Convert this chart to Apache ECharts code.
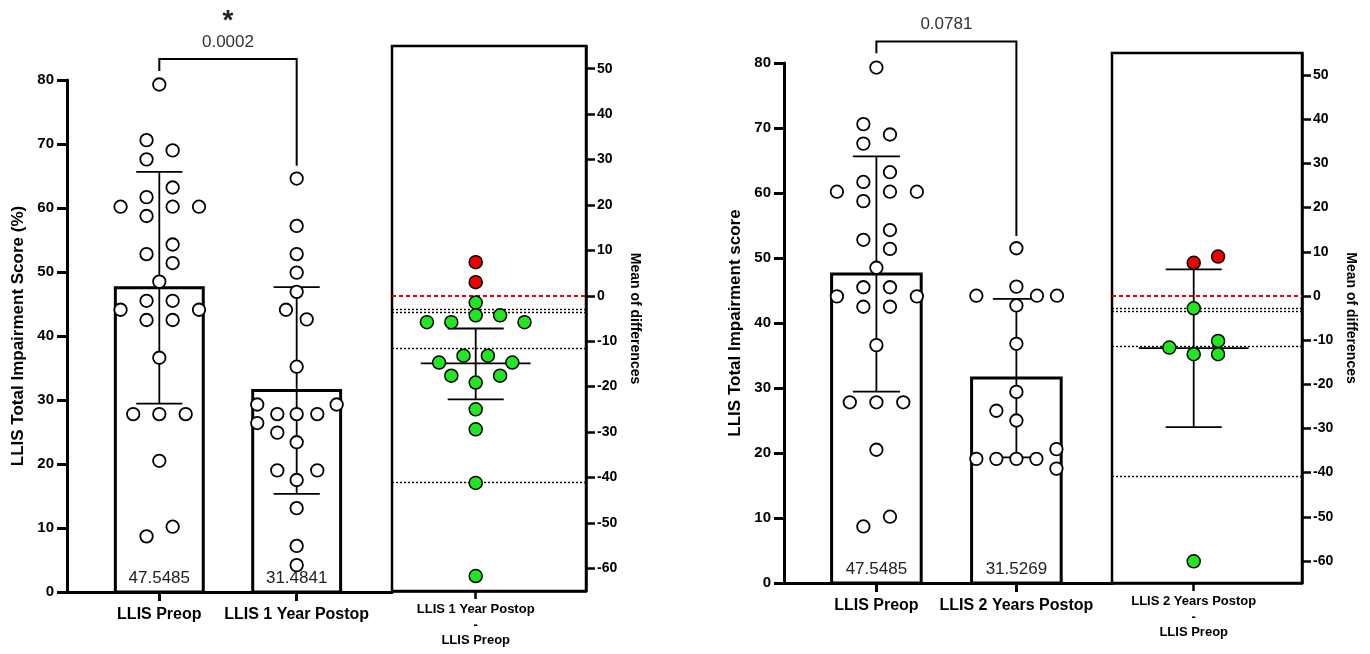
<!DOCTYPE html>
<html>
<head>
<meta charset="utf-8">
<script src="https://cdn.jsdelivr.net/npm/echarts@6/dist/echarts.min.js"></script>
<style>
html,body{margin:0;padding:0;background:#fff;}
#c{width:1370px;height:654px;}
</style>
</head>
<body>
<div id="c"></div>
<script>
// ---------------- data ----------------
const categories1 = ['LLIS Preop', 'LLIS 1 Year Postop'];
const categories2 = ['LLIS Preop', 'LLIS 2 Years Postop'];
const diffLabel1 = 'LLIS 1 Year Postop\n-\nLLIS Preop';
const diffLabel2 = 'LLIS 2 Years Postop\n-\nLLIS Preop';
const scoreTicks = [0, 10, 20, 30, 40, 50, 60, 70, 80];
const diffTicks = [-60, -50, -40, -30, -20, -10, 0, 10, 20, 30, 40, 50];

// individual scores (jitter = horizontal swarm offset, in category widths)
const preopValues = [79.3, 70.6, 69.0, 67.6, 63.2, 61.7, 60.2, 60.2, 60.2, 58.75, 54.3, 52.8, 51.4, 48.5, 45.5, 45.5, 44.1, 44.1, 42.5, 42.5, 36.6, 27.8, 27.8, 27.8, 20.5, 8.7, 10.2];
const preopJitter = [0, -0.093, 0.097, -0.093, 0.097, -0.093, -0.282, 0.097, 0.289, -0.093, 0.097, -0.093, 0.097, 0, -0.093, 0.097, -0.282, 0.289, -0.093, 0.097, 0, -0.19, 0, 0.192, 0, -0.093, 0.097];

const postop1Values = [64.6, 57.2, 52.8, 49.9, 46.9, 44.1, 42.6, 35.2, 29.3, 29.3, 27.8, 27.8, 27.8, 26.4, 24.9, 23.4, 19.0, 19.0, 17.5, 13.1, 7.2, 4.2];
const postop1Jitter = [0, 0, 0, 0, 0, -0.078, 0.073, 0, -0.287, 0.291, -0.141, 0, 0.15, -0.287, -0.141, 0, -0.141, 0.15, 0, 0, 0, 0];

const postop2Values = [51.5, 45.6, 44.2, 44.2, 44.2, 42.7, 36.8, 29.4, 26.5, 25.0, 20.6, 19.1, 19.1, 19.1, 19.1, 17.6];
const postop2Jitter = [0, 0, -0.286, 0.147, 0.29, 0, 0, 0, -0.143, 0, 0.286, -0.286, -0.143, 0, 0.143, 0.286];

// bar means and SD
const means1 = [47.5485, 31.4841];
const sd1 = [18.1, 16.15];
const means2 = [47.5485, 31.5269];
const sd2 = [18.1, 12.2];

// differences (jitter in swarm steps)
const diff1Values = [7.4, 3.0, -1.5, -4.3, -4.3, -5.8, -5.8, -5.8, -13.2, -13.2, -14.7, -14.7, -17.6, -17.6, -19.1, -25.0, -29.4, -41.2, -61.7];
const diff1Jitter = [0, 0, 0, 0, 2, -4, -2, 4, -1, 1, -3, 3, -2, 2, 0, 0, 0, 0, 0];
const diff1Summary = [-22.8, -14.9, -7.2];   // lower, centre, upper
const diff1RefLines = [-2.9, -3.7, -11.5, -41.0];

const diff2Values = [7.5, 8.9, -2.8, -10.2, -11.7, -13.2, -13.2, -60.1];
const diff2Jitter = [0, 2, 0, 2, -2, 0, 2, 0];
const diff2Summary = [-29.7, -11.8, 6.0];
const diff2RefLines = [-2.8, -3.5, -11.4, -40.8];

// significance brackets: left foot, top, right foot
const sig1 = [81.4, 83.3, 66.6];
const sig1P = '0.0002';
const sig1Star = '*';
const sig2 = [81.5, 83.3, 53.4];
const sig2P = '0.0781';
const sig2Star = '';

// ---------------- helpers ----------------
const FONT = '"Liberation Sans", Arial, Helvetica, sans-serif';
const RED = '#ee0000';
const GREEN = '#22e622';

function barSeries(xi, yi, means) {
  return {
    type: 'custom', xAxisIndex: xi, yAxisIndex: yi, silent: true, z: 2,
    data: means.map((m, i) => [i, m]),
    renderItem(params, api) {
      const x = api.value(0), m = api.value(1);
      const a = api.coord([x - 0.32, m]);
      const b = api.coord([x + 0.32, 0]);
      return {
        type: 'group',
        children: [
          { type: 'rect', shape: { x: a[0], y: a[1], width: b[0] - a[0], height: b[1] - a[1] },
            style: { fill: '#fff', stroke: '#000', lineWidth: 3 } },
          { type: 'text', x: (a[0] + b[0]) / 2, y: b[1] - 14,
            style: { text: m.toFixed(4), fill: '#222', font: '17px ' + FONT, align: 'center', verticalAlign: 'middle' } }
        ]
      };
    }
  };
}

function errSeries(xi, yi, means, sds) {
  return {
    type: 'custom', xAxisIndex: xi, yAxisIndex: yi, silent: true, z: 3,
    data: means.map((m, i) => [i, m - sds[i], m + sds[i]]),
    renderItem(params, api) {
      const x = api.value(0), lo = api.value(1), hi = api.value(2);
      const st = { stroke: '#000', lineWidth: 1.8 };
      const p1 = api.coord([x, lo]), p2 = api.coord([x, hi]);
      const l1 = api.coord([x - 0.168, lo]), r1 = api.coord([x + 0.168, lo]);
      const l2 = api.coord([x - 0.168, hi]), r2 = api.coord([x + 0.168, hi]);
      return { type: 'group', children: [
        { type: 'line', shape: { x1: p1[0], y1: p1[1], x2: p2[0], y2: p2[1] }, style: st },
        { type: 'line', shape: { x1: l1[0], y1: l1[1], x2: r1[0], y2: r1[1] }, style: st },
        { type: 'line', shape: { x1: l2[0], y1: l2[1], x2: r2[0], y2: r2[1] }, style: st }
      ]};
    }
  };
}

function pointSeries(xi, yi, cat, values, jitter) {
  return {
    type: 'scatter', xAxisIndex: xi, yAxisIndex: yi, silent: true, z: 5,
    symbol: 'circle', symbolSize: 12.5,
    itemStyle: { color: '#fff', borderColor: '#000', borderWidth: 1.8, opacity: 1 },
    data: values.map((v, k) => [cat + jitter[k], v])
  };
}

function bracketSeries(xi, yi, sig, p, star) {
  return {
    type: 'custom', xAxisIndex: xi, yAxisIndex: yi, silent: true, z: 6, clip: false,
    data: [[0, sig[0], sig[1], sig[2]]],
    renderItem(params, api) {
      const a = api.coord([0, api.value(1)]);
      const b = api.coord([0, api.value(2)]);
      const c = api.coord([1, api.value(2)]);
      const d = api.coord([1, api.value(3)]);
      const mx = (b[0] + c[0]) / 2;
      const children = [
        { type: 'polyline', shape: { points: [a, b, c, d] }, style: { stroke: '#000', lineWidth: 2, fill: null } },
        { type: 'text', x: mx, y: b[1] - 17, style: { text: p, fill: '#333', font: '17px ' + FONT, align: 'center', verticalAlign: 'middle' } }
      ];
      if (star) {
        children.push({ type: 'text', x: mx, y: b[1] - 38, style: { text: star, fill: '#222', font: 'bold 28px ' + FONT, align: 'center', verticalAlign: 'middle' } });
      }
      return { type: 'group', children };
    }
  };
}

function diffPointSeries(xi, yi, values, jitter) {
  return {
    type: 'scatter', xAxisIndex: xi, yAxisIndex: yi, silent: true, z: 5,
    symbol: 'circle', symbolSize: 13,
    itemStyle: { color: p => (p.value[1] > 0 ? RED : GREEN), borderColor: '#000', borderWidth: 1.5, opacity: 1 },
    data: values.map((v, k) => [jitter[k], v])
  };
}

function diffSummarySeries(xi, yi, summary, refLines) {
  return {
    type: 'custom', xAxisIndex: xi, yAxisIndex: yi, silent: true, z: 3,
    data: [[0, summary[0], summary[1], summary[2]]],
    renderItem(params, api) {
      const lo = api.value(1), mid = api.value(2), hi = api.value(3);
      const st = { stroke: '#000', lineWidth: 1.8 };
      const L = (x1, y1, x2, y2) => {
        const a = api.coord([x1, y1]), b = api.coord([x2, y2]);
        return { type: 'line', shape: { x1: a[0], y1: a[1], x2: b[0], y2: b[1] }, style: st };
      };
      return { type: 'group', children: [
        L(0, lo, 0, hi), L(-4.5, mid, 4.5, mid), L(-2.3, lo, 2.3, lo), L(-2.3, hi, 2.3, hi)
      ]};
    },
    markLine: {
      silent: true, symbol: 'none', animation: false, label: { show: false },
      data: refLines.map(v => ({ yAxis: v, lineStyle: { color: '#000', width: 1.4, type: [2, 2] } }))
        .concat([{ yAxis: 0, lineStyle: { color: RED, width: 2, type: [4, 3] } }])
    }
  };
}

function scoreYAxis(grid, name) {
  return {
    type: 'value', gridIndex: grid, min: 0, max: 80, interval: 10,
    name, nameLocation: 'middle', nameGap: 40,
    nameTextStyle: { fontFamily: FONT, fontWeight: 'bold', fontSize: 17, color: '#000' },
    axisLine: { show: true, onZero: false, lineStyle: { color: '#000', width: 3 } },
    axisTick: { show: true, inside: false, length: 10, lineStyle: { color: '#000', width: 3 } },
    axisLabel: { fontFamily: FONT, fontWeight: 'bold', fontSize: 15, color: '#000', margin: 13, customValues: scoreTicks },
    splitLine: { show: false }
  };
}

function diffYAxis(grid) {
  return {
    type: 'value', gridIndex: grid, position: 'right', min: -65, max: 55,
    name: 'Mean of differences', nameLocation: 'middle', nameGap: 42, nameRotate: -90,
    nameTextStyle: { fontFamily: FONT, fontWeight: 'bold', fontSize: 14, color: '#000' },
    axisLine: { show: true, onZero: false, lineStyle: { color: '#000', width: 2.5 } },
    axisTick: { show: true, inside: false, length: 9, lineStyle: { color: '#000', width: 2.5 }, customValues: diffTicks },
    axisLabel: { fontFamily: FONT, fontWeight: 'bold', fontSize: 14, color: '#000', margin: 11, customValues: diffTicks },
    splitLine: { show: false }
  };
}

function catXAxis(grid, min, max, cats) {
  return {
    type: 'value', gridIndex: grid, min, max,
    axisLine: { show: true, onZero: false, lineStyle: { color: '#000', width: 3 } },
    axisTick: { show: true, length: 9, lineStyle: { color: '#000', width: 3 }, customValues: [0, 1] },
    axisLabel: { fontFamily: FONT, fontWeight: 'bold', fontSize: 16, color: '#000', margin: 15,
                 customValues: [0, 1], formatter: v => cats[Math.round(v)] },
    splitLine: { show: false }
  };
}

function diffXAxis(grid, min, max, label) {
  return {
    type: 'value', gridIndex: grid, min, max,
    axisLine: { show: true, onZero: false, lineStyle: { color: '#000', width: 2.5 } },
    axisTick: { show: true, length: 8, lineStyle: { color: '#000', width: 2.5 }, customValues: [0] },
    axisLabel: { fontFamily: FONT, fontWeight: 'bold', fontSize: 13, lineHeight: 15.5, color: '#000', margin: 11,
                 customValues: [0], formatter: () => label },
    splitLine: { show: false }
  };
}

const chart = echarts.init(document.getElementById('c'), null, { renderer: 'canvas' });
const boxGrid = { show: true, borderColor: '#000', borderWidth: 2.5, backgroundColor: 'transparent', outerBoundsMode: 'none' };

chart.setOption({
  animation: false,
  backgroundColor: '#fff',
  grid: [
    { left: 67, top: 80, width: 325, height: 512, outerBoundsMode: 'none' },
    Object.assign({ left: 392, top: 46, width: 194, height: 545 }, boxGrid),
    { left: 784, top: 63, width: 328, height: 520, outerBoundsMode: 'none' },
    Object.assign({ left: 1112, top: 53, width: 190, height: 530 }, boxGrid)
  ],
  xAxis: [
    catXAxis(0, -0.672, 1.694, categories1),
    diffXAxis(1, -6.86, 9.04, diffLabel1),
    catXAxis(2, -0.66, 1.683, categories2),
    diffXAxis(3, -6.70, 8.88, diffLabel2)
  ],
  yAxis: [
    scoreYAxis(0, 'LLIS Total Impairment Score (%)'),
    diffYAxis(1),
    scoreYAxis(2, 'LLIS Total Impairment score'),
    diffYAxis(3)
  ],
  series: [
    barSeries(0, 0, means1),
    errSeries(0, 0, means1, sd1),
    pointSeries(0, 0, 0, preopValues, preopJitter),
    pointSeries(0, 0, 1, postop1Values, postop1Jitter),
    bracketSeries(0, 0, sig1, sig1P, sig1Star),
    diffSummarySeries(1, 1, diff1Summary, diff1RefLines),
    diffPointSeries(1, 1, diff1Values, diff1Jitter),

    barSeries(2, 2, means2),
    errSeries(2, 2, means2, sd2),
    pointSeries(2, 2, 0, preopValues, preopJitter),
    pointSeries(2, 2, 1, postop2Values, postop2Jitter),
    bracketSeries(2, 2, sig2, sig2P, sig2Star),
    diffSummarySeries(3, 3, diff2Summary, diff2RefLines),
    diffPointSeries(3, 3, diff2Values, diff2Jitter)
  ]
});
</script>
</body>
</html>
